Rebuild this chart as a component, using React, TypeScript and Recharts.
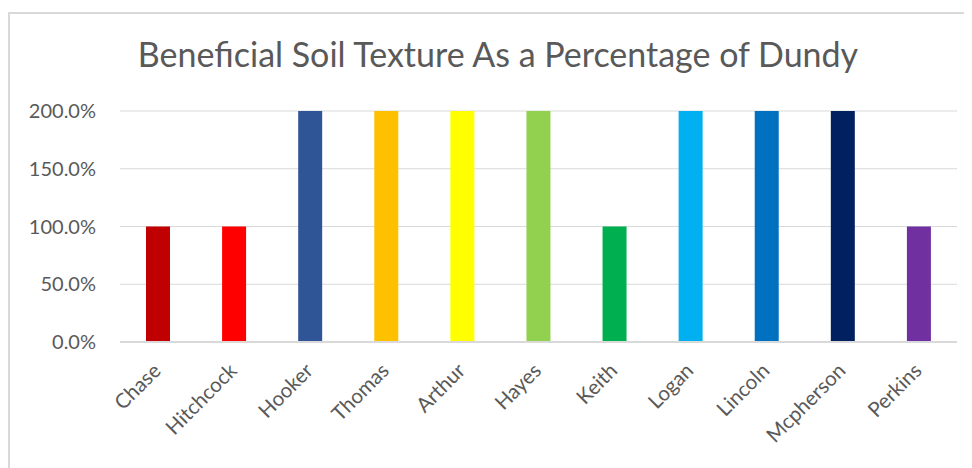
import React from "react";
import { BarChart, Bar, XAxis, YAxis, CartesianGrid, Cell } from "recharts";

const counties = [
  "Chase",
  "Hitchcock",
  "Hooker",
  "Thomas",
  "Arthur",
  "Hayes",
  "Keith",
  "Logan",
  "Lincoln",
  "Mcpherson",
  "Perkins",
];

// share of Dundy's beneficial soil texture (1 = 100%)
const shares = [1, 1, 2, 2, 2, 2, 1, 2, 2, 2, 1];

const barColors = [
  "#C00000",
  "#FF0000",
  "#2F5597",
  "#FFC000",
  "#FFFF00",
  "#92D050",
  "#00B050",
  "#00B0F0",
  "#0070C0",
  "#002060",
  "#7030A0",
];

const yTicks = [0, 0.5, 1, 1.5, 2];

const data = counties.map((name, i) => ({ name, share: shares[i] }));

const FONT = "Lato, 'Noto Sans', sans-serif";
const TEXT = "#595959";
const GRID = "#d9d9d9";

const pct = (v: number) => `${(v * 100).toFixed(1)}%`;

const CountyTick = (props: any) => {
  const { x, y, payload } = props;
  const tx = x + 4;
  const ty = y + 22;
  return (
    <text
      x={tx}
      y={ty}
      transform={`rotate(-45, ${tx}, ${ty})`}
      textAnchor="end"
      fill={TEXT}
      fontSize={20.5}
      fontFamily={FONT}
    >
      {payload.value}
    </text>
  );
};

export default function App() {
  return (
    <div
      style={{
        position: "relative",
        width: 964,
        height: 460,
        overflow: "hidden",
        fontFamily: FONT,
      }}
    >
      <div
        style={{
          position: "absolute",
          left: 0,
          top: 4,
          width: 1000,
          height: 500,
          borderLeft: `2px solid ${GRID}`,
          borderTop: `2px solid ${GRID}`,
          boxSizing: "border-box",
        }}
      />
      <div
        style={{
          position: "absolute",
          left: 0,
          width: 980,
          top: 25,
          textAlign: "center",
          fontSize: 34,
          color: TEXT,
          fontFamily: FONT,
        }}
      >
        Beneficial Soil Texture As a Percentage of Dundy
      </div>
      <BarChart
        width={964}
        height={460}
        data={data}
        margin={{ top: 103, right: 15, left: 0, bottom: 0 }}
        style={{ position: "absolute", left: 0, top: 0 }}
      >
        <CartesianGrid vertical={false} stroke={GRID} />
        <XAxis
          dataKey="name"
          height={126}
          axisLine={{ stroke: GRID, strokeWidth: 2 }}
          tickLine={false}
          interval={0}
          tick={<CountyTick />}
        />
        <YAxis
          width={112}
          domain={[0, 2]}
          ticks={yTicks}
          tickFormatter={pct}
          axisLine={false}
          tickLine={false}
          tickMargin={18}
          tick={{ fill: TEXT, fontSize: 20, fontFamily: FONT }}
        />
        <Bar dataKey="share" barSize={24} isAnimationActive={false}>
          {data.map((d, i) => (
            <Cell key={d.name} fill={barColors[i]} />
          ))}
        </Bar>
      </BarChart>
    </div>
  );
}
